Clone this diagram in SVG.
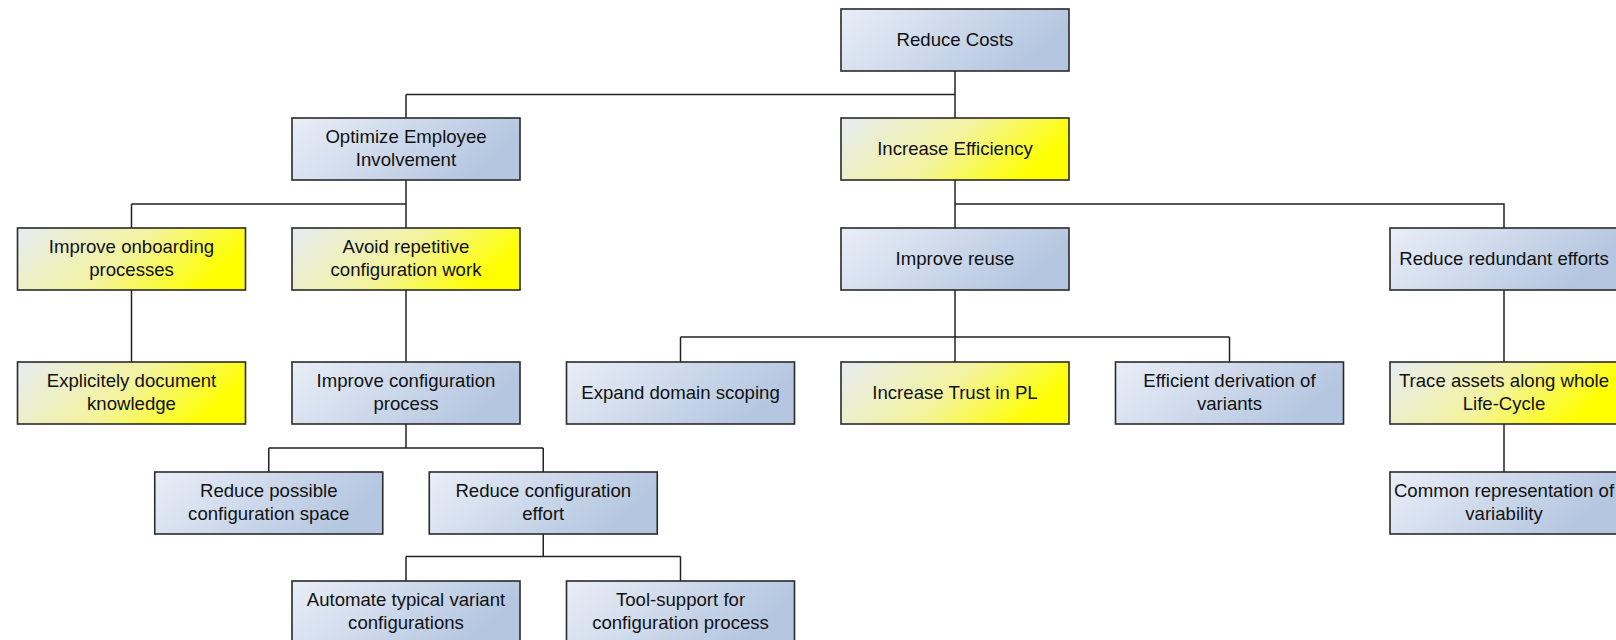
<svg xmlns="http://www.w3.org/2000/svg" width="1616" height="640" viewBox="0 0 1616 640">
<style>
.n rect{stroke:#2a2a2a;stroke-width:1.6}
.b rect{fill:url(#gb)}
.y rect{fill:url(#gy)}
text{font-family:"Liberation Sans",Arial,sans-serif;font-size:18.6px;fill:#111;text-anchor:middle}
.c{fill:none;stroke:#222;stroke-width:1.5}
</style>
<defs>
<linearGradient id="gb" x1="0" y1="0" x2="1" y2="0.3">
<stop offset="0" stop-color="#e9eef7"/><stop offset="1" stop-color="#b4c6e0"/>
</linearGradient>
<linearGradient id="gy" x1="0" y1="0" x2="1" y2="0.3">
<stop offset="0" stop-color="#e6ebf2"/><stop offset="0.55" stop-color="#f3f3a0"/><stop offset="1" stop-color="#ffff00"/>
</linearGradient>
</defs>
<g id="connectors" class="c">
<path d="M955 71V94.5M406 94.5H955M406 94.5V118M955 94.5V118"/>
<path d="M406 180V204M131.5 204H406M131.5 204V228M406 204V228"/>
<path d="M955 180V204H1504V228M955 204V228"/>
<path d="M131.5 290V362"/>
<path d="M406 290V362"/>
<path d="M955 290V337M680.5 337H1229.5M680.5 337V362M955 337V362M1229.5 337V362"/>
<path d="M1504 290V362"/>
<path d="M406 424V448M268.75 448H543.25M268.75 448V472M543.25 448V472"/>
<path d="M543.25 534V556.5M406 556.5H680.5M406 556.5V581M680.5 556.5V581"/>
<path d="M1504 424V472"/>
</g>
<g id="n-reduce-costs" class="n b"><rect x="841" y="9" width="228" height="62"/><text x="955" y="45.5">Reduce Costs</text></g>
<g id="n-optimize" class="n b"><rect x="292" y="118" width="228" height="62"/><text x="406" y="142.75">Optimize Employee</text><text x="406" y="165.5">Involvement</text></g>
<g id="n-efficiency" class="n y"><rect x="841" y="118" width="228" height="62"/><text x="955" y="154.5">Increase Efficiency</text></g>
<g id="n-onboarding" class="n y"><rect x="17.5" y="228" width="228" height="62"/><text x="131.5" y="252.75">Improve onboarding</text><text x="131.5" y="275.5">processes</text></g>
<g id="n-avoid" class="n y"><rect x="292" y="228" width="228" height="62"/><text x="406" y="252.75">Avoid repetitive</text><text x="406" y="275.5">configuration work</text></g>
<g id="n-reuse" class="n b"><rect x="841" y="228" width="228" height="62"/><text x="955" y="264.5">Improve reuse</text></g>
<g id="n-redundant" class="n b"><rect x="1390" y="228" width="228" height="62"/><text x="1504" y="264.5">Reduce redundant efforts</text></g>
<g id="n-document" class="n y"><rect x="17.5" y="362" width="228" height="62"/><text x="131.5" y="386.75">Explicitely document</text><text x="131.5" y="409.5">knowledge</text></g>
<g id="n-config-process" class="n b"><rect x="292" y="362" width="228" height="62"/><text x="406" y="386.75">Improve configuration</text><text x="406" y="409.5">process</text></g>
<g id="n-scoping" class="n b"><rect x="566.5" y="362" width="228" height="62"/><text x="680.5" y="398.5">Expand domain scoping</text></g>
<g id="n-trust" class="n y"><rect x="841" y="362" width="228" height="62"/><text x="955" y="398.5">Increase Trust in PL</text></g>
<g id="n-derivation" class="n b"><rect x="1115.5" y="362" width="228" height="62"/><text x="1229.5" y="386.75">Efficient derivation of</text><text x="1229.5" y="409.5">variants</text></g>
<g id="n-trace" class="n y"><rect x="1390" y="362" width="228" height="62"/><text x="1504" y="386.75">Trace assets along whole</text><text x="1504" y="409.5">Life-Cycle</text></g>
<g id="n-space" class="n b"><rect x="154.75" y="472" width="228" height="62"/><text x="268.75" y="496.75">Reduce possible</text><text x="268.75" y="519.5">configuration space</text></g>
<g id="n-effort" class="n b"><rect x="429.25" y="472" width="228" height="62"/><text x="543.25" y="496.75">Reduce configuration</text><text x="543.25" y="519.5">effort</text></g>
<g id="n-common" class="n b"><rect x="1390" y="472" width="228" height="62"/><text x="1504" y="496.75">Common representation of</text><text x="1504" y="519.5">variability</text></g>
<g id="n-automate" class="n b"><rect x="292" y="581" width="228" height="62"/><text x="406" y="605.75">Automate typical variant</text><text x="406" y="628.5">configurations</text></g>
<g id="n-tool" class="n b"><rect x="566.5" y="581" width="228" height="62"/><text x="680.5" y="605.75">Tool-support for</text><text x="680.5" y="628.5">configuration process</text></g>
</svg>
